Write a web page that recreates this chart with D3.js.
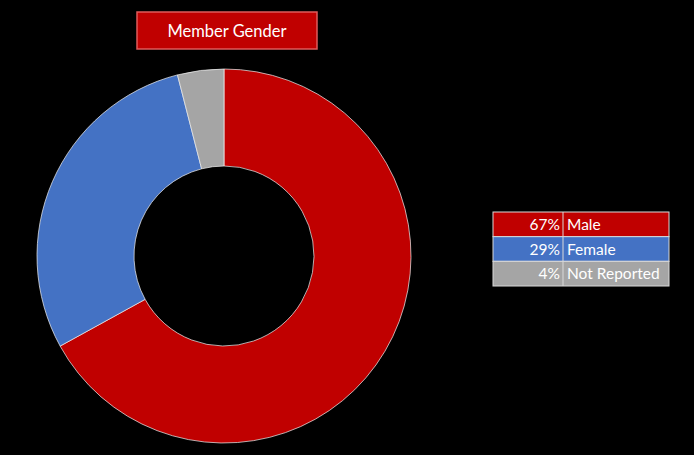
<!DOCTYPE html>
<meta charset="utf-8">
<style>
body { margin: 0; background: #000; }
svg text { font-family: Lato, "Noto Sans", sans-serif; fill: #fff; }
</style>
<body>
<svg id="chart" width="694" height="455"></svg>
<script src="https://d3js.org/d3.v7.min.js"></script>
<script>
// gender split, percent of members
var categories = ["Male", "Female", "Not Reported"];
var shares = [67, 29, 4];
var sliceColors = ["#c00000", "#4472c4", "#a5a5a5"];
var title = "Member Gender";

var svg = d3.select("#chart");

var color = d3.scaleOrdinal().domain(categories).range(sliceColors);

var data = categories.map(function(c, i) { return {name: c, value: shares[i]}; });

// donut
var cx = 224, cy = 256, outer = 187, inner = 90;

var pie = d3.pie()
    .sort(null)
    .value(function(d) { return d.value; });

var arc = d3.arc()
    .outerRadius(outer)
    .innerRadius(inner);

var donut = svg.append("g").attr("transform", "translate(" + cx + "," + cy + ")");

donut.selectAll("path")
  .data(pie(data))
  .enter().append("path")
    .attr("d", arc)
    .attr("fill", function(d) { return color(d.data.name); })
    .attr("stroke", "#f2f2f2")
    .attr("stroke-opacity", 0.7)
    .attr("stroke-width", 1);

// title box
var titleBox = svg.append("g").attr("transform", "translate(137,12)");
titleBox.append("rect")
    .attr("width", 180)
    .attr("height", 37)
    .attr("fill", "#c00000")
    .attr("stroke", "#e05a5a")
    .attr("stroke-width", 1.5);
titleBox.append("text")
    .attr("x", 90)
    .attr("y", 24.5)
    .attr("text-anchor", "middle")
    .style("font-size", "16.5px")
    .text(title);

// legend table
var legX = 493, legW = 176, splitX = 70;
var rows = d3.scaleBand()
    .domain(categories)
    .range([212, 286]);

var legend = svg.append("g");

var row = legend.selectAll("g")
  .data(data)
  .enter().append("g")
    .attr("transform", function(d) { return "translate(" + legX + "," + rows(d.name) + ")"; });

row.append("rect")
    .attr("width", legW)
    .attr("height", rows.bandwidth())
    .attr("fill", function(d) { return color(d.name); })
    .attr("stroke", "#d9d9d9")
    .attr("stroke-width", 1);

row.append("line")
    .attr("x1", splitX).attr("x2", splitX)
    .attr("y1", 0).attr("y2", rows.bandwidth())
    .attr("stroke", "#d9d9d9")
    .attr("stroke-width", 1);

row.append("text")
    .attr("x", splitX - 3)
    .attr("y", rows.bandwidth() / 2)
    .attr("dy", "0.36em")
    .attr("text-anchor", "end")
    .style("font-size", "15.5px")
    .text(function(d) { return d.value + "%"; });

row.append("text")
    .attr("x", splitX + 4)
    .attr("y", rows.bandwidth() / 2)
    .attr("dy", "0.36em")
    .style("font-size", "15.5px")
    .text(function(d) { return d.name; });
</script>
</body>
